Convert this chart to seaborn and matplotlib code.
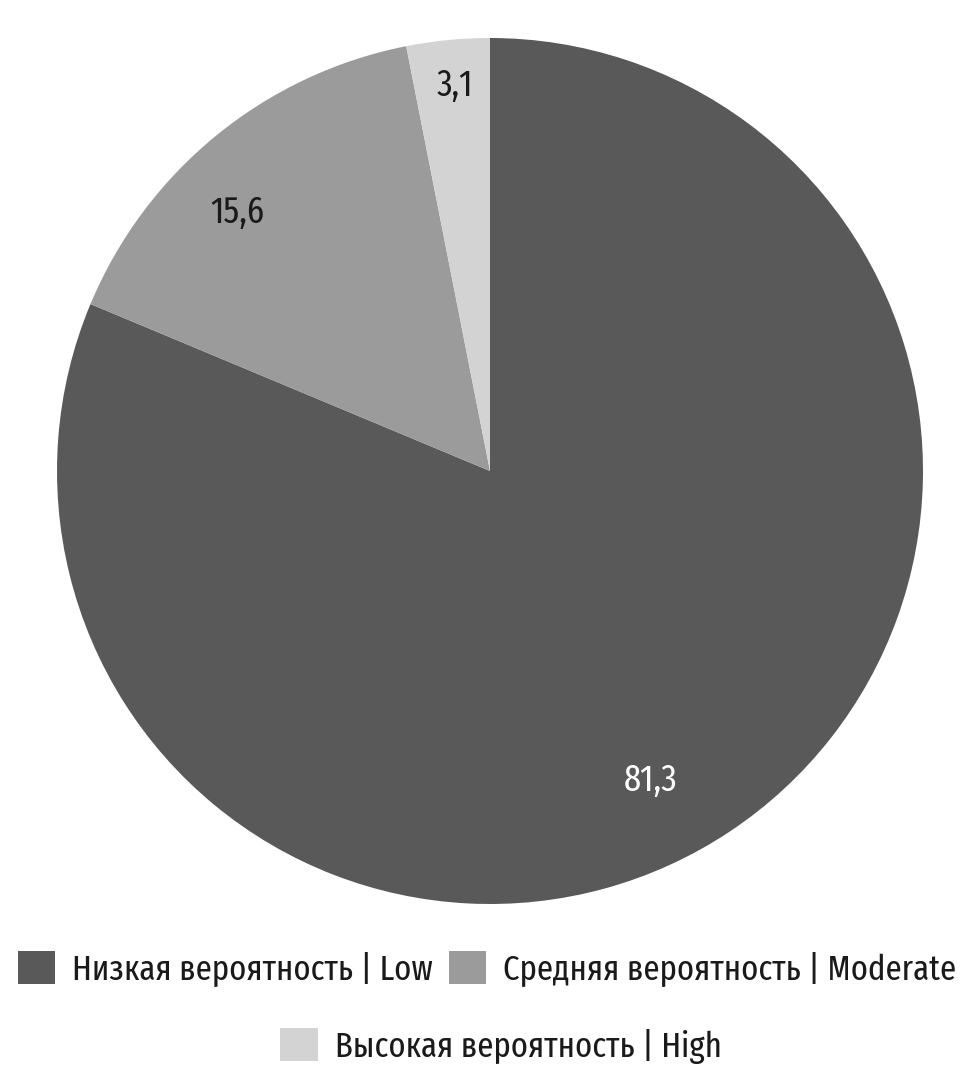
import matplotlib
matplotlib.use("Agg")
import matplotlib.pyplot as plt
import matplotlib.patches as mpatches
import seaborn as sns

categories = ["Низкая вероятность | Low", "Средняя вероятность | Moderate", "Высокая вероятность | High"]
values = [81.3, 15.6, 3.1]
value_labels = ["81,3", "15,6", "3,1"]
colors = ["#595959", "#9b9b9b", "#d3d3d3"]
label_colors = ["white", "#1a1a1a", "#1a1a1a"]
label_xy = [(0.37, -0.714), (-0.584, 0.596), (-0.081, 0.891)]

sns.set_theme(style="white")
plt.rcParams['font.family'] = ['Fira Sans Extra Condensed', 'DejaVu Sans']

W, H = 973, 1090
fig = plt.figure(figsize=(W / 100, H / 100), dpi=100)
cx, cy, r = 490, 471, 433
ax = fig.add_axes([(cx - r) / W, (H - cy - r) / H, 2 * r / W, 2 * r / H])
wedges, _ = ax.pie(values, colors=colors, startangle=90, counterclock=False,
                   radius=1, wedgeprops=dict(linewidth=0))
ax.set_xlim(-1, 1)
ax.set_ylim(-1, 1)
ax.set_aspect("equal")
ax.axis("off")

for txt, (x, y), c in zip(value_labels, label_xy, label_colors):
    ax.text(x, y, txt, ha="center", va="center", fontsize=27, color=c)

fs = 25.5
handles = [mpatches.Patch(facecolor=c, edgecolor="none") for c in colors]
common = dict(frameon=False, fontsize=fs, handlelength=1.05, handleheight=1.05, handletextpad=0.48)
leg1 = fig.legend(handles[:2], categories[:2], loc="center", bbox_to_anchor=(487 / W, 1 - 969 / H),
                  ncol=2, columnspacing=0.45, **common)
leg2 = fig.legend(handles[2:], categories[2:], loc="center", bbox_to_anchor=(501 / W, 1 - 1046 / H),
                  ncol=1, **common)
for leg in (leg1, leg2):
    for t in leg.get_texts():
        t.set_color("#1a1a1a")

fig.savefig("out.png", dpi=100, facecolor="white")
